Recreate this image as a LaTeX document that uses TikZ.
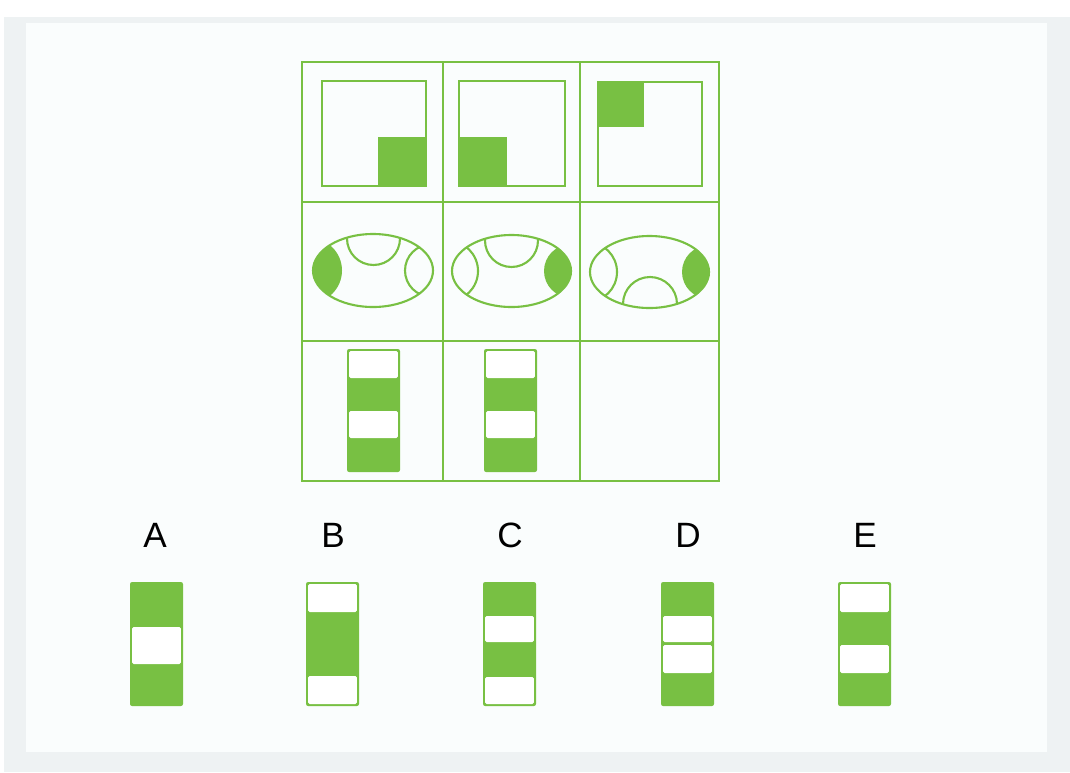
\documentclass[tikz,border=0pt]{standalone}
\usepackage{fontspec}
\setmainfont{Liberation Sans}
\usetikzlibrary{positioning}

\definecolor{puzzlegreen}{RGB}{120,192,67}
\definecolor{framegrey}{RGB}{238,242,243}
\definecolor{panelwhite}{RGB}{250,253,253}

\tikzset{
  grid line/.style={puzzlegreen, line width=2.1pt},
  shape line/.style={puzzlegreen, line width=1.5pt},
  optlabel/.style={font=\fontsize{25}{27}\selectfont, text=black, inner sep=1pt},
}

% one striped bar: left x, top y, height, white parts as from/to offsets
\newcommand{\barcol}[4]{%
  \fill[puzzlegreen, rounded corners=1.5] (#1,#2) rectangle ++(53,#3);
  \foreach \a/\b in {#4}
    \fill[white, rounded corners=1] (#1+2.2,#2+\a) rectangle (#1+50.8,#2+\b);
}

\begin{document}
\begin{tikzpicture}[x=0.025cm,y=-0.025cm]
  \useasboundingbox (0,0) rectangle (1070,772);
  \fill[white] (0,0) rectangle (1070,772);
  \fill[framegrey] (4,17) rectangle (1070,772);
  \fill[panelwhite] (26,23) rectangle (1047,752);

  % the 3x3 grid
  \draw[grid line] (302,62) rectangle (719,481);
  \foreach \gx in {443,580}
    \draw[grid line] (\gx,62) -- (\gx,481);
  \foreach \gy in {202,341}
    \draw[grid line] (302,\gy) -- (719,\gy);

  % row 1: squares with a filled corner
  \draw[shape line] (322,81) rectangle (426,186);
  \fill[puzzlegreen] (378,137) rectangle (426,186);
  \draw[shape line] (459,81) rectangle (565,186);
  \fill[puzzlegreen] (459,137) rectangle (507,186);
  \draw[shape line] (598,82) rectangle (702,186);
  \fill[puzzlegreen] (598,82) rectangle (644,127);

  % row 2: ellipses
  \begin{scope}
    \clip (373,270.5) ellipse [x radius=60, y radius=36.5];
    \fill[puzzlegreen] (309.4,270.5) circle [radius=32.6];
    \draw[shape line] (431.2,270.5) circle [radius=26.2];
    \draw[shape line] (373.5,238.5) circle [radius=26.5];
  \end{scope}
  \draw[shape line] (373,270.5) ellipse [x radius=60, y radius=36.5];

  \begin{scope}
    \clip (511.5,271) ellipse [x radius=59.5, y radius=36];
    \draw[shape line] (447.7,271) circle [radius=30.3];
    \fill[puzzlegreen] (570.7,271) circle [radius=26.7];
    \draw[shape line] (511.5,240.5) circle [radius=26.5];
  \end{scope}
  \draw[shape line] (511.5,271) ellipse [x radius=59.5, y radius=36];

  \begin{scope}
    \clip (649.5,272) ellipse [x radius=59.5, y radius=36];
    \draw[shape line] (587,272) circle [radius=30];
    \fill[puzzlegreen] (708.7,272) circle [radius=26.7];
    \draw[shape line] (650,304) circle [radius=27];
  \end{scope}
  \draw[shape line] (649.5,272) ellipse [x radius=59.5, y radius=36];

  % row 3: bars
  \barcol{347}{349}{123}{2/29, 62/89}
  \barcol{484}{349}{123}{2/29, 62/89}

  % answer options
  \foreach \lab/\lx in {A/155, B/333, C/510, D/688, E/865}
    \node[optlabel] (lab\lab) at (\lx,535) {\lab};
  \barcol{130}{582}{124}{45/82}
  \barcol{306}{582}{124}{2/30, 94/122}
  \barcol{483}{582}{124}{34/60, 95/122}
  \barcol{661}{582}{124}{34/60, 63/91}
  \barcol{838}{582}{124}{2/30, 63/91}
\end{tikzpicture}
\end{document}
